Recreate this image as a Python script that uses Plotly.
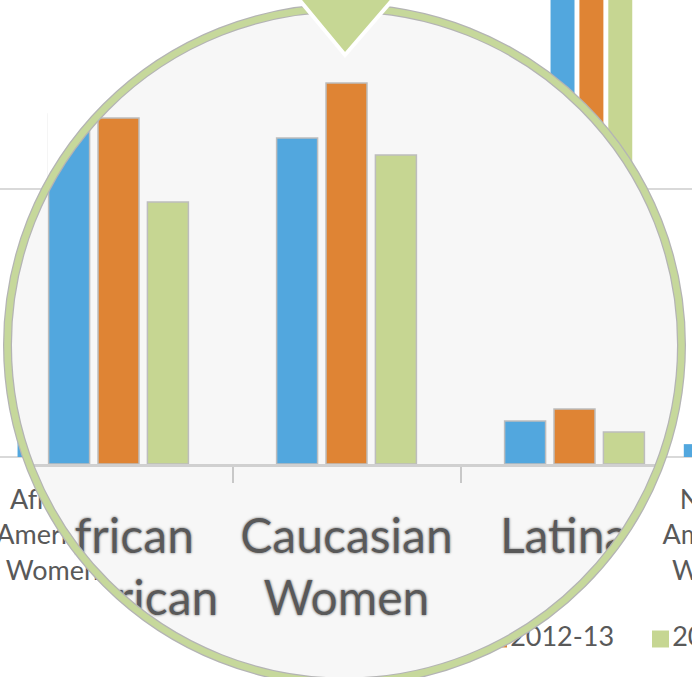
import numpy as np
import plotly.graph_objects as go

# ---------------- data ----------------
# background (unmagnified) chart
bg_categories = ["African American Women", "Asian American Women", "Latinas",
                 "Multiracial Women", "Total", "Native American Women"]
series_names = ["2011-12", "2012-13", "2013-14"]
bg_2011_12 = [75, 120, 160, 40, 2450, 48]
bg_2012_13 = [85, 130, 175, 45, 2600, 52]
bg_2013_14 = [70, 125, 150, 38, 2380, 44]

# magnified detail inside the lens
zoom_categories = ["African American Women", "Caucasian Women", "Latinas"]
zoom_2011_12 = [35.0, 32.6, 4.3]
zoom_2012_13 = [34.6, 38.1, 5.5]
zoom_2013_14 = [26.2, 30.9, 3.2]

# ---------------- styles / geometry ----------------
W, H = 692, 677
COLORS = ["#52a7de", "#df8434", "#c6d692"]
TEXT = "#595959"
FONT = "Lato"
CX, CY, R = 344.5, 345.0, 337.0          # lens circle (pixels)

# background chart pixel mapping
A_C0, A_STEP, A_BASE, A_PPU = 58.4, 133.25, 457.0, 0.268
# magnified chart pixel mapping
B_C0, B_STEP, B_BASE, B_PPU = 118.5, 228.0, 464.0, 10.0
B_LEFT, B_RIGHT, B_TOP = 30.0, 659.0, 70.0


def xd(px):
    return px / W


def yd(px):
    return 1 - px / H


def wrap(s):
    return s.replace(" ", "<br>")


def arc(y0, y1, side, n=40):
    ys = np.linspace(y0, y1, n)
    dx = np.sqrt(np.clip(R * R - (ys - CY) ** 2, 0, None))
    xs = CX - dx if side == "left" else CX + dx
    return list(zip(xs, ys))


def paper_path(pts):
    return "M " + " L ".join(f"{xd(x):.5f},{yd(y):.5f}" for x, y in pts) + " Z"


fig = go.Figure()
layout = dict(
    width=W, height=H, margin=dict(l=0, r=0, t=0, b=0),
    paper_bgcolor="white", plot_bgcolor="rgba(0,0,0,0)",
    showlegend=False, barmode="group", bargap=0.35, bargroupgap=0.17,
)

# ---------- subplot 1: background chart ----------
idx = list(range(len(bg_categories)))
for name, vals, col in zip(series_names, [bg_2011_12, bg_2012_13, bg_2013_14], COLORS):
    fig.add_trace(go.Bar(x=idx, y=vals, name=name, marker=dict(color=col, line=dict(width=0)),
                         xaxis="x", yaxis="y", hoverinfo="skip"))

label_dx = -6 / A_STEP
fig.add_trace(go.Scatter(
    x=[i + label_dx for i in idx], y=[(A_BASE - 537.7) / A_PPU] * len(idx),
    text=[wrap(c) for c in bg_categories], mode="text", textposition="middle center",
    textfont=dict(family=FONT, size=27, color=TEXT), xaxis="x", yaxis="y", hoverinfo="skip"))

legend_px = [336.5, 498.5, 660.5]
fig.add_trace(go.Scatter(
    x=[(p - A_C0) / A_STEP for p in legend_px], y=[(A_BASE - 639) / A_PPU] * 3,
    mode="markers+text", text=series_names, textposition="middle right",
    marker=dict(symbol="square", size=17, color=COLORS, line=dict(width=0)),
    textfont=dict(family=FONT, size=27, color=TEXT), xaxis="x", yaxis="y", hoverinfo="skip"))

layout["xaxis"] = dict(domain=[0, 1], range=[(0 - A_C0) / A_STEP, (W - A_C0) / A_STEP],
                       visible=False, anchor="y")
layout["yaxis"] = dict(domain=[0, 1], range=[(A_BASE - H) / A_PPU, A_BASE / A_PPU],
                       showgrid=True, tickvals=[1000], gridcolor="#d9d9d9", gridwidth=1.5,
                       zeroline=True, zerolinecolor="#d9d9d9", zerolinewidth=1.5,
                       showticklabels=False, showline=False, anchor="x")

# ---------- subplot 2: lens background (hides the chart behind the lens) ----------
fig.add_trace(go.Scatter(x=[], y=[], xaxis="x2", yaxis="y2", hoverinfo="skip"))
layout["xaxis2"] = dict(domain=[xd(CX - R), xd(CX + R)], range=[CX - R, CX + R],
                        visible=False, anchor="y2")
layout["yaxis2"] = dict(domain=[yd(min(CY + R, H)), yd(CY - R)], range=[-min(CY + R, H), -(CY - R)],
                        visible=False, anchor="x2")
shapes = [dict(type="circle", xref="x2", yref="y2", layer="below",
               x0=CX - R, x1=CX + R, y0=-(CY + R), y1=-(CY - R),
               fillcolor="#f7f7f7", line=dict(width=0))]

# ---------- subplot 3: magnified bars ----------
for name, vals, col in zip(series_names, [zoom_2011_12, zoom_2012_13, zoom_2013_14], COLORS):
    fig.add_trace(go.Bar(x=zoom_categories, y=vals, name=name,
                         marker=dict(color=col, line=dict(color="#bdbdbd", width=1.5)),
                         xaxis="x3", yaxis="y3", hoverinfo="skip"))
layout["xaxis3"] = dict(domain=[xd(B_LEFT), xd(B_RIGHT)], type="category",
                        categoryorder="array", categoryarray=zoom_categories,
                        range=[(B_LEFT - B_C0) / B_STEP, (B_RIGHT - B_C0) / B_STEP],
                        showline=True, linecolor="#d0d0d0", linewidth=3,
                        ticks="outside", tickson="boundaries", ticklen=16, tickwidth=2,
                        tickcolor="#c8c8c8", showticklabels=False, showgrid=False,
                        anchor="y3")
layout["yaxis3"] = dict(domain=[yd(B_BASE), yd(B_TOP)], range=[0, (B_BASE - B_TOP) / B_PPU],
                        visible=False, anchor="x3")

# ---------- subplot 4: magnified category labels ----------
L_LEFT, L_TOP = 74.0, 500.0
fig.add_trace(go.Scatter(
    x=zoom_categories, y=[(B_BASE - 517) / B_PPU] * len(zoom_categories),
    text=[wrap(c) for c in zoom_categories], mode="text", textposition="bottom center",
    textfont=dict(family=FONT, size=48, color="#595959",
                  shadow="0px 0px 1px #f2f2f2, 0px 0px 2.5px #505050"),
    xaxis="x4", yaxis="y4", hoverinfo="skip", cliponaxis=True))
layout["xaxis4"] = dict(domain=[xd(L_LEFT), 1], type="category",
                        categoryorder="array", categoryarray=zoom_categories,
                        range=[(L_LEFT - B_C0) / B_STEP, (W - B_C0) / B_STEP],
                        visible=False, anchor="y4")
layout["yaxis4"] = dict(domain=[0, yd(L_TOP)],
                        range=[(B_BASE - H) / B_PPU, (B_BASE - L_TOP) / B_PPU],
                        visible=False, anchor="x4")

# ---------- masks: hide magnified content that pokes outside the lens ----------
pts = [(48, 104), (92, 104)] + arc(CY - np.sqrt(R * R - (92 - CX) ** 2),
                                   CY - np.sqrt(R * R - (48 - CX) ** 2), "left", 20)
shapes.append(dict(type="path", xref="paper", yref="paper", layer="above",
                   path=paper_path(pts), fillcolor="white", line=dict(width=0)))

pts = [(-5, 586)] + arc(586, CY + R, "left") + [(CX, 720), (-5, 720)]
shapes.append(dict(type="path", xref="paper", yref="paper", layer="above",
                   path=paper_path(pts), fillcolor="white", line=dict(width=0)))

pts = arc(495, 600, "right") + [(655, 600), (655, 495)]
shapes.append(dict(type="path", xref="paper", yref="paper", layer="above",
                   path=paper_path(pts), fillcolor="white", line=dict(width=0)))

# ---------- lens ring and pointer ----------
ring = dict(type="circle", xref="paper", yref="paper", layer="above",
            x0=xd(CX - R), x1=xd(CX + R), y0=yd(CY + R), y1=yd(CY - R),
            fillcolor="rgba(0,0,0,0)")
shapes.append(dict(ring, line=dict(color="#b4b4b4", width=9)))
shapes.append(dict(ring, line=dict(color="#c6d89b", width=6.5)))

tri = [(297, -3), (395, -3), (345, 55)]
shapes.append(dict(type="path", xref="paper", yref="paper", layer="above",
                   path=paper_path(tri), fillcolor="#c6d794", line=dict(color="white", width=4)))

layout["shapes"] = shapes
fig.update_layout(**layout)
fig.write_html("out.html", config={"displayModeBar": False},
               post_script="document.body.style.margin='0px';document.body.style.overflow='hidden';")
